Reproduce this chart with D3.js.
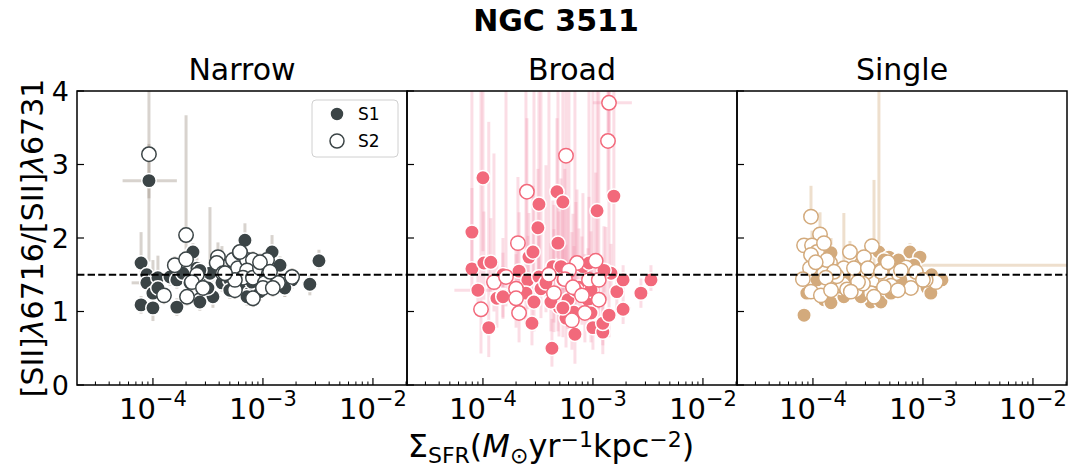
<!DOCTYPE html>
<html><head><meta charset="utf-8">
<script src="https://cdn.jsdelivr.net/npm/d3@7"></script>
<style>body{margin:0;background:#fff}svg{font-family:"DejaVu Sans",sans-serif}</style>
</head><body>
<svg id="c" width="1072" height="468"></svg>
<script>
// ---- data ----
const panelTitles = ["Narrow", "Broad", "Single"];
const seriesNames = ["S1", "S2"];
const mainColors = ["#3b4446", "#f2697b", "#d3aa7c"];
const errColors = ["#9e9085", "#f390aa", "#d3aa7c"];
const xTickValues = [1e-4, 1e-3, 1e-2];
const xTickExponents = ["−4", "−3", "−2"];
const yTickValues = [0, 1, 2, 3, 4];
const refLine = 1.5;
// point tuples: [SigmaSFR, ratio, errDown, errUp, (xLow, xHigh)]
const narrowS1 = [
 [9.2e-5,2.78,1.1,0.5,5.3e-5,1.65e-4],[7.8e-5,1.66,0.2,0.42],[8.8e-5,1.50,0.15,0.15],[8.8e-5,1.39,0.12,0.12,6.4e-5,1.0e-4],
 [7.8e-5,1.09,0.12,0.12],[1.0e-4,1.05,0.18,0.15],[1.0e-4,1.25,0.15,0.45],[1.11e-4,1.46,0.15,0.3],[1.43e-4,1.47,0.12,0.12],
 [1.65e-4,1.06,0.12,0.12],[1.65e-4,1.43,0.12,0.12],[2.31e-4,1.81,0.12,0.12],[2.51e-4,1.59,0.15,0.15],[3.1e-4,1.36,0.15,0.15],
 [2.67e-4,1.18,0.12,0.12],[3.51e-4,1.20,0.15,0.4],[3.3e-4,1.52,0.2,0.9],[4.24e-4,1.39,0.12,0.5],[6.86e-4,1.97,0.15,0.23],
 [6.58e-4,1.32,0.15,0.2],[7.6e-4,1.25,0.12,0.12],[1.21e-3,1.81,0.12,0.23],[1.37e-3,1.63,0.12,0.12],[1.58e-3,1.32,0.12,0.12],
 [1.65e-3,1.39,0.12,0.12],[1.84e-3,1.43,0.12,0.15],[2.67e-3,1.37,0.15,0.12],[3.23e-3,1.69,0.12,0.15],[5.0e-4,1.43,0.12,0.3],
 [5.33e-4,1.56,0.12,0.2],[1.11e-4,1.32,0.12,0.12],[2.67e-4,1.13,0.12,0.12],[3.16e-4,1.32,0.12,0.12],[5.0e-4,1.29,0.12,0.12],
 [7.16e-4,1.20,0.12,0.12],[9.4e-4,1.27,0.12,0.12],[1.43e-3,1.63,0.12,0.12],[1.58e-3,1.32,0.12,0.12],[1.23e-3,1.43,0.12,0.12],
 [7.94e-4,1.40,0.12,0.12],[2.67e-4,1.56,0.12,0.12],[1.87e-4,1.52,0.12,0.12],[2.17e-4,1.39,0.12,0.12]
];
const narrowS2 = [
 [9.2e-5,3.14,0.6,1.5],[2.0e-4,2.04,0.2,1.63],[1.58e-4,1.63,0.12,0.12],[2.0e-4,1.71,0.12,0.12],[1.26e-4,1.22,0.12,0.12],
 [2.04e-4,1.20,0.12,0.12],[2.51e-4,1.50,0.12,0.12],[2.26e-4,1.40,0.12,0.12],[2.85e-4,1.32,0.12,0.12],[3.9e-4,1.74,0.12,0.2],
 [3.8e-4,1.66,0.12,0.12],[4.33e-4,1.52,0.12,0.12],[5.33e-4,1.70,0.12,0.12],[6.18e-4,1.80,0.12,0.12],[5.93e-4,1.59,0.12,0.12],
 [5.56e-4,1.29,0.12,0.12],[7.16e-4,1.70,0.12,0.12],[8.11e-4,1.70,0.12,0.12],[7.16e-4,1.56,0.12,0.12],[6.58e-4,1.46,0.12,0.12],
 [8.11e-4,1.46,0.12,0.12],[8.11e-4,1.18,0.12,0.12],[9.4e-4,1.59,0.12,0.12],[1.09e-3,1.70,0.12,0.12],[1.13e-3,1.52,0.12,0.12],
 [1.04e-3,1.39,0.12,0.12],[1.0e-3,1.32,0.12,0.12],[1.37e-3,1.39,0.12,0.12],[1.23e-3,1.32,0.12,0.12],[1.84e-3,1.47,0.12,0.12],
 [5.56e-4,1.43,0.12,0.12],[4.52e-4,1.52,0.12,0.12],[9.4e-4,1.67,0.12,0.12],[1.16e-3,1.54,0.12,0.12],[6.18e-4,1.81,0.12,0.12]
];
const broadS1 = [
 [1.0e-4,2.82,1.0,1.5],[7.94e-5,2.08,0.5,0.6],[7.94e-5,1.58,0.3,2.6],[1.02e-4,1.66,0.5,0.7],[1.18e-4,1.67,0.4,0.6],
 [9.0e-5,1.29,0.3,0.4,5.5e-5,1.2e-4],[1.13e-4,0.78,0.4,2.8],[1.34e-4,1.18,0.4,0.5],[1.52e-4,1.22,0.3,0.4],[2.13e-4,1.55,0.4,0.8],
 [2.62e-4,1.74,0.4,0.6],[2.85e-4,1.81,0.4,0.9],[2.56e-4,1.43,0.4,0.6],[2.46e-4,1.25,0.4,2.9],[2.91e-4,1.13,0.4,3.0],
 [2.79e-4,0.84,0.3,0.5],[3.23e-4,2.46,1.0,1.8],[3.16e-4,2.14,0.6,0.8],[3.23e-4,1.47,0.4,0.7],[3.37e-4,1.31,0.4,2.8],
 [4.71e-4,2.63,0.9,1.0],[5.33e-4,2.49,1.2,1.6],[4.81e-4,1.93,1.2,2.2],[4.33e-4,1.61,0.4,0.9],[5.12e-4,1.61,0.4,1.2],
 [4.42e-4,1.12,0.4,1.0],[4.91e-4,1.06,0.4,1.3],[4.24e-4,0.50,0.25,0.4],[5.93e-4,1.16,0.4,1.4],[5.69e-4,0.91,0.4,1.0],
 [6.86e-4,0.69,0.4,3.4],[6.72e-4,0.99,0.4,0.9],[8.11e-4,1.61,0.4,1.0],[7.46e-4,1.33,0.4,0.8],[9.0e-4,1.16,0.4,0.7],
 [9.6e-4,0.98,0.4,0.6],[1.0e-3,0.78,0.3,3.3],[1.23e-3,0.72,0.3,0.5],[1.23e-3,0.84,0.3,0.5],[1.40e-3,0.95,0.3,3.1],
 [1.09e-3,2.37,1.3,1.7],[1.55e-3,2.57,1.0,1.5],[1.31e-3,1.55,0.4,0.6],[1.65e-3,1.27,0.3,0.3],[1.88e-3,1.43,0.2,0.2],
 [1.88e-3,1.03,0.2,0.2],[2.73e-3,1.25,0.2,0.2],[3.37e-3,1.43,0.15,0.2],[1.46e-3,1.52,0.3,0.4],[9.6e-4,1.29,0.4,0.8],
 [5.33e-4,1.43,0.4,1.1],[3.74e-4,1.39,0.4,1.6],[1.52e-4,1.50,0.3,0.5],[1.52e-4,1.20,0.3,0.6],[4.15e-4,1.13,0.4,0.8],
 [5.33e-4,1.05,0.4,0.9],[7.0e-4,1.29,0.4,1.2],[9.2e-4,1.66,0.4,0.9],[1.26e-3,1.56,0.3,0.6]
];
const broadS2 = [
 [1.40e-3,3.84,0.4,0.6,1.0e-3,2.26e-3],[1.37e-3,3.32,0.8,1.0],[5.69e-4,3.12,1.5,1.0],[2.51e-4,2.63,0.9,1.0],[2.08e-4,1.93,0.5,0.9],
 [1.06e-3,1.69,0.4,1.2],[7.16e-4,1.66,0.4,1.0],[6.05e-4,1.56,0.4,2.5],[1.26e-4,1.40,0.4,1.75],[1.62e-4,1.47,0.4,2.7],
 [2.0e-4,1.31,0.4,0.7],[2.13e-4,0.98,0.4,0.6],[9.6e-5,1.03,0.6,3.0],[3.98e-4,1.50,0.4,2.6],[4.42e-4,1.25,0.4,1.2],
 [5.56e-4,1.44,0.4,1.5],[6.58e-4,1.33,0.4,1.0],[7.94e-4,1.22,0.4,0.8],[9.2e-4,1.43,0.4,2.7],[1.13e-3,1.43,0.4,2.7],
 [1.13e-3,1.16,0.4,0.6],[8.45e-4,0.98,0.4,0.8],[6.44e-4,0.88,0.4,1.2],[2.0e-4,1.18,0.4,0.6]
];
const singleS1 = [
 [8.3e-5,0.95,0.1,0.1],[3.37e-4,1.13,0.1,0.1],[4.15e-4,1.13,0.1,0.1],[3.98e-4,1.81,0.1,2.5],[4.91e-4,1.74,0.1,0.1],
 [7.62e-4,1.81,0.1,0.12],[9.4e-4,1.74,0.1,0.1],[8.28e-4,1.63,0.1,0.1,7.0e-4,3.0e-2],[1.09e-3,1.32,0.1,0.1],[1.34e-3,1.43,0.1,0.1],
 [1.49e-3,1.43,0.1,0.1],[1.18e-3,1.25,0.1,0.1],[1.46e-4,1.80,0.1,0.2],[1.26e-4,1.16,0.1,0.1],[1.46e-4,1.12,0.1,0.1],
 [1.91e-4,1.20,0.1,0.1],[2.73e-4,1.20,0.1,0.1],[6.31e-4,1.43,0.1,0.1],[5.12e-4,1.25,0.1,0.1],[6.72e-4,1.61,0.1,0.1],
 [8.63e-4,1.52,0.1,0.1],[1.80e-4,1.33,0.1,0.1],[1.09e-4,1.43,0.1,0.1],[8.8e-5,1.25,0.1,0.1],[4.42e-4,1.70,0.1,0.1],
 [6.0e-4,1.70,0.1,0.1],[1.2e-3,1.50,0.1,0.1],[2.2e-4,1.45,0.1,0.1],[1.5e-4,1.35,0.1,0.1],[3.0e-4,1.65,0.1,0.1]
];
const singleS2 = [
 [9.6e-5,2.29,0.1,0.42],[1.16e-4,2.05,0.1,0.3],[8.3e-5,1.90,0.1,0.1],[9.8e-5,1.90,0.1,0.2],[1.09e-4,1.81,0.1,0.1],
 [9.4e-5,1.59,0.1,0.1],[8.1e-5,1.44,0.1,0.1],[9.6e-5,1.27,0.1,0.1],[1.18e-4,1.22,0.1,0.1],[1.43e-4,1.66,0.1,0.15],
 [1.26e-4,1.52,0.1,0.1],[1.55e-4,1.33,0.1,0.1],[1.91e-4,1.59,0.1,0.75],[1.88e-4,1.37,0.1,0.1],[2.17e-4,1.81,0.1,0.15],
 [2.79e-4,1.65,0.1,0.1],[2.51e-4,1.46,0.1,0.1],[2.46e-4,1.29,0.1,0.1],[3.44e-4,1.89,0.1,0.1],[3.59e-4,1.43,0.1,1.36],
 [3.37e-4,1.25,0.1,0.1],[3.1e-4,1.54,0.1,0.1],[4.15e-4,1.56,0.1,0.1],[5.69e-4,1.52,0.1,0.1],[4.61e-4,1.43,0.1,0.1],
 [7.78e-4,1.32,0.1,0.1],[1.31e-3,1.40,0.1,0.1],[1.06e-3,1.43,0.1,0.1],[2.91e-4,1.74,0.1,0.1],[1.34e-4,1.70,0.1,0.1],
 [1.65e-4,1.48,0.1,0.1],[2.04e-4,1.30,0.1,0.1],[2.85e-4,1.38,0.1,0.1],[5.12e-4,1.35,0.1,0.1],[7.0e-4,1.60,0.1,0.1],
 [9.6e-5,1.77,0.1,0.1],[1.26e-4,1.93,0.1,0.1],[1.06e-4,1.67,0.1,0.1],[1.55e-4,1.54,0.1,0.1],[1.31e-4,1.46,0.1,0.1],
 [2.36e-4,1.59,0.1,0.1],[2.57e-4,1.40,0.1,0.1],[3.16e-4,1.59,0.1,0.1],[4.15e-4,1.54,0.1,0.1],[4.8e-4,1.67,0.1,0.1],
 [4.42e-4,1.33,0.1,0.1],[6.31e-4,1.56,0.1,0.1],[8.63e-4,1.54,0.1,0.1],[1.0e-3,1.43,0.1,0.1],[1.46e-4,1.29,0.1,0.1],
 [2.21e-4,1.27,0.1,0.1],[3.59e-4,1.20,0.1,0.1],[5.93e-4,1.29,0.1,0.1]
];
const panelData = [[narrowS1, narrowS2], [broadS1, broadS2], [singleS1, singleS2]];

// ---- layout ----
const svg = d3.select("#c");
const plotTop = 91, plotH = 294, plotW = 330;
const lefts = [77, 407, 737];
const x = d3.scaleLog().domain([2.04e-5, 2.04e-2]).range([0, plotW]);
const y = d3.scaleLinear().domain([0, 4]).range([plotH, 0]);
const errOpacity = [0.4, 0.3, 0.38];
const markerR = 7.2;

svg.append("text").attr("x", 556).attr("y", 31).attr("text-anchor", "middle")
  .attr("font-size", 30).attr("font-weight", "bold").text("NGC 3511");

panelTitles.forEach((title, pi) => {
  const g = svg.append("g").attr("transform", `translate(${lefts[pi]},${plotTop})`);
  const clipId = "clip" + pi;
  g.append("clipPath").attr("id", clipId).append("rect").attr("width", plotW).attr("height", plotH);
  const plot = g.append("g").attr("clip-path", `url(#${clipId})`);
  panelData[pi].forEach(series => {
    const eg = plot.append("g").attr("stroke", errColors[pi]).attr("stroke-opacity", errOpacity[pi]).attr("stroke-width", 3);
    series.forEach(d => {
      eg.append("line").attr("x1", x(d[0])).attr("x2", x(d[0]))
        .attr("y1", y(d[1] - d[2])).attr("y2", y(d[1] + d[3]));
      if (d.length > 4) {
        eg.append("line").attr("x1", x(d[4])).attr("x2", x(d[5]))
          .attr("y1", y(d[1])).attr("y2", y(d[1]));
      }
    });
  });
  g.append("line").attr("x1", 0).attr("x2", plotW).attr("y1", y(refLine)).attr("y2", y(refLine))
    .attr("stroke", "#000").attr("stroke-width", 2).attr("stroke-dasharray", "7.4,3.2");
  panelData[pi].forEach((series, si) => {
    plot.append("g").selectAll("circle").data(series).join("circle")
      .attr("cx", d => x(d[0])).attr("cy", d => y(d[1])).attr("r", markerR)
      .attr("fill", si === 0 ? mainColors[pi] : "#fff")
      .attr("stroke", si === 0 ? "#fff" : mainColors[pi])
      .attr("stroke-width", 1.5);
  });
  const ax = g.append("g").attr("stroke", "#000");
  const [d0, d1] = x.domain();
  const minors = [];
  for (let e = -5; e <= -2; e++) for (let m = 2; m <= 9; m++) {
    const v = m * Math.pow(10, e);
    if (v >= d0 && v <= d1) minors.push(v);
  }
  minors.forEach(v => ax.append("line").attr("x1", x(v)).attr("x2", x(v)).attr("y1", plotH).attr("y2", plotH - 3.5).attr("stroke-width", 1));
  xTickValues.forEach(v => ax.append("line").attr("x1", x(v)).attr("x2", x(v)).attr("y1", plotH).attr("y2", plotH - 7).attr("stroke-width", 1.2));
  yTickValues.forEach(v => ax.append("line").attr("x1", 0).attr("x2", 7).attr("y1", y(v)).attr("y2", y(v)).attr("stroke-width", 1.2));
  g.append("rect").attr("width", plotW).attr("height", plotH).attr("fill", "none")
    .attr("stroke", "#000").attr("stroke-width", 1.5);
  xTickValues.forEach((v, i) => {
    const t = g.append("text").attr("x", x(v)).attr("y", plotH + 34).attr("text-anchor", "middle").attr("font-size", 29);
    t.append("tspan").text("10");
    t.append("tspan").attr("dy", -13).attr("font-size", 21).text(xTickExponents[i]);
  });
  if (pi === 0) {
    yTickValues.forEach(v => g.append("text").attr("x", -8).attr("y", y(v)).attr("dy", "0.36em")
      .attr("text-anchor", "end").attr("font-size", 27).text(v));
  }
  g.append("text").attr("x", plotW / 2).attr("y", -11).attr("text-anchor", "middle").attr("font-size", 30).text(title);

  if (pi === 0) {
    const lg = g.append("g").attr("transform", "translate(235,9)");
    lg.append("rect").attr("width", 86).attr("height", 57).attr("rx", 4)
      .attr("fill", "#fff").attr("fill-opacity", 0.8).attr("stroke", "#d0d0d0");
    seriesNames.forEach((n, si) => {
      lg.append("circle").attr("cx", 25).attr("cy", 14 + si * 27).attr("r", 7)
        .attr("fill", si === 0 ? mainColors[0] : "#fff").attr("stroke", si === 0 ? "#fff" : mainColors[0]).attr("stroke-width", 1.5);
      lg.append("text").attr("x", 46).attr("y", 14 + si * 27).attr("dy", "0.36em").attr("font-size", 17).text(n);
    });
  }
});

const yl = svg.append("text").attr("transform", "translate(43,238) rotate(-90)").attr("text-anchor", "middle").attr("font-size", 30);
yl.append("tspan").text("[SII]");
yl.append("tspan").attr("font-style", "italic").text("λ");
yl.append("tspan").text("6716/[SII]");
yl.append("tspan").attr("font-style", "italic").text("λ");
yl.append("tspan").text("6731");

const xl = svg.append("text").attr("x", 551).attr("y", 457).attr("text-anchor", "middle").attr("font-size", 32);
xl.append("tspan").text("Σ");
xl.append("tspan").attr("dy", 6).attr("font-size", 22).text("SFR");
xl.append("tspan").attr("dy", -6).text("(");
xl.append("tspan").attr("font-style", "italic").text("M");
xl.append("tspan").attr("dy", 6).attr("font-size", 22).text("⊙");
xl.append("tspan").attr("dy", -6).text("yr");
xl.append("tspan").attr("dy", -10).attr("font-size", 22).text("−1");
xl.append("tspan").attr("dy", 10).text("kpc");
xl.append("tspan").attr("dy", -10).attr("font-size", 22).text("−2");
xl.append("tspan").attr("dy", 10).text(")");
</script>
</body></html>
